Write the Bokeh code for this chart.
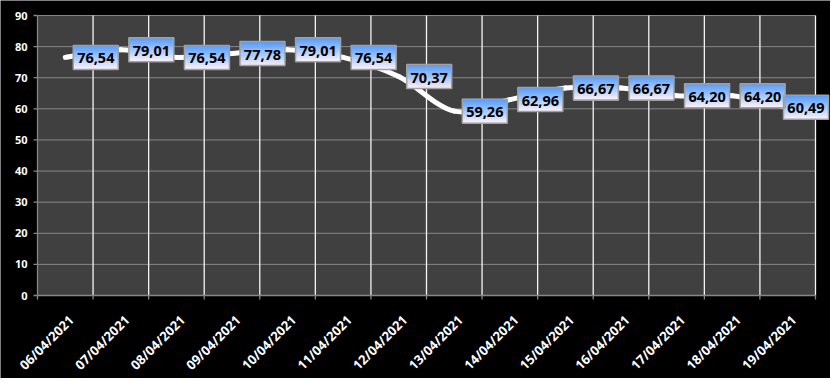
import math
from bokeh.plotting import figure
from bokeh.models import Range1d
from bokeh.core.properties import value
from bokeh.embed import file_html
from bokeh.resources import INLINE

dates = ["06/04/2021", "07/04/2021", "08/04/2021", "09/04/2021", "10/04/2021",
         "11/04/2021", "12/04/2021", "13/04/2021", "14/04/2021", "15/04/2021",
         "16/04/2021", "17/04/2021", "18/04/2021", "19/04/2021"]
values = [76.54, 79.01, 76.54, 77.78, 79.01, 76.54, 70.37, 59.26, 62.96,
          66.67, 66.67, 64.20, 64.20, 60.49]
y_ticks = [0, 10, 20, 30, 40, 50, 60, 70, 80, 90]

W, H = 830, 378
LEFT, TOP, BOTTOM_PX = 37, 15, 295
PLOT_RIGHT_PX = 815
n = len(dates)
y_max = 90
ppx = (PLOT_RIGHT_PX - LEFT) / n
ppy = (BOTTOM_PX - TOP) / y_max

p = figure(width=W, height=H, output_backend="svg", toolbar_location=None,
           x_range=Range1d(-LEFT / ppx, (W - LEFT) / ppx),
           y_range=Range1d(-(H - BOTTOM_PX) / ppy, y_max + TOP / ppy),
           x_axis_location=None, y_axis_location=None,
           min_border_left=0, min_border_right=0, min_border_top=0, min_border_bottom=0)
p.background_fill_color = "black"
p.border_fill_color = "black"
p.outline_line_color = None
p.xgrid.visible = False
p.ygrid.visible = False

# plot area
p.quad(left=[0], right=[n], bottom=[0], top=[y_max], fill_color="#404040", line_color=None)

# gridlines
hy = [t for t in y_ticks if t > 0]
p.segment(x0=[0] * len(hy), x1=[n] * len(hy), y0=hy, y1=hy, line_color="#868686", line_width=1)
vx = list(range(1, n + 1))
p.segment(x0=vx, x1=vx, y0=[0] * len(vx), y1=[y_max] * len(vx), line_color="#f4f4f4", line_width=1.3)

# axis lines and tick marks
p.segment(x0=[0, 0], x1=[n, 0], y0=[0, 0], y1=[0, y_max], line_color="#868686", line_width=1.3)
bx = list(range(0, n + 1))
p.segment(x0=bx, x1=bx, y0=[0] * len(bx), y1=[-4 / ppy] * len(bx),
          line_color="#868686", line_width=1.3)
p.segment(x0=[0] * len(y_ticks), x1=[-4 / ppx] * len(y_ticks), y0=y_ticks, y1=y_ticks,
          line_color="#868686", line_width=1.3)

# value axis labels
p.text(x=[-10 / ppx] * len(y_ticks), y=y_ticks, text=[str(t) for t in y_ticks],
       text_align="right", text_baseline="middle",
       text_font=value("Noto Sans"), text_font_style="bold", text_font_size="11px",
       text_color="white")

# category labels
xs = [i + 0.5 for i in range(n)]
p.text(x=[x + 6 / ppx for x in xs], y=[-22 / ppy] * n, text=dates,
       angle=math.pi / 4, text_align="right", text_baseline="middle",
       text_font=value("Noto Sans"), text_font_style="bold", text_font_size="13px",
       text_color="white")

# smoothed line (Catmull-Rom -> bezier)
ys = values
x0s, y0s, x1s, y1s, cx0, cy0, cx1, cy1 = [], [], [], [], [], [], [], []
for i in range(n - 1):
    pxm, pym = (xs[i - 1], ys[i - 1]) if i > 0 else (xs[i], ys[i])
    pxp, pyp = (xs[i + 2], ys[i + 2]) if i + 2 < n else (xs[i + 1], ys[i + 1])
    x0s.append(xs[i]); y0s.append(ys[i]); x1s.append(xs[i + 1]); y1s.append(ys[i + 1])
    cx0.append(xs[i] + (xs[i + 1] - pxm) / 6); cy0.append(ys[i] + (ys[i + 1] - pym) / 6)
    cx1.append(xs[i + 1] - (pxp - xs[i]) / 6); cy1.append(ys[i + 1] - (pyp - ys[i]) / 6)
p.bezier(x0=x0s, y0=y0s, x1=x1s, y1=y1s, cx0=cx0, cy0=cy0, cx1=cx1, cy1=cy1,
         line_color="white", line_width=5, line_cap="round")

# data labels with gradient boxes
BOX_W, BOX_H, GAP = 45, 24, 8
max_right_px = 828
lab_x = []
for i in range(n):
    cx = xs[i] + (GAP + BOX_W / 2) / ppx
    cx = min(cx, (max_right_px - LEFT - BOX_W / 2) / ppx)
    lab_x.append(cx)

top_c = (90, 156, 250)
mid_c = (160, 198, 252)
bot_c = (248, 238, 248)
def grad(t):
    if t < 0.5:
        a, b, u = top_c, mid_c, t / 0.5
    else:
        a, b, u = mid_c, bot_c, (t - 0.5) / 0.5
    return "#%02x%02x%02x" % tuple(int(round(a[k] + (b[k] - a[k]) * u)) for k in range(3))

NS = 12
sh = BOX_H / NS
sx, sy, sc = [], [], []
for i in range(n):
    for k in range(NS):
        off_px = BOX_H / 2 - (k + 0.5) * sh
        sx.append(lab_x[i]); sy.append(values[i] + off_px / ppy); sc.append(grad(k / (NS - 1)))
p.rect(x=sx, y=sy, width=BOX_W, height=sh + 0.6, width_units="screen", height_units="screen",
       fill_color=sc, line_color=None)
p.rect(x=lab_x, y=values, width=BOX_W, height=BOX_H, width_units="screen", height_units="screen",
       fill_color=None, line_color="#a0a0a0", line_width=1.5)
labels = [("%.2f" % v).replace(".", ",") for v in values]
p.text(x=lab_x, y=values, text=labels, text_align="center", text_baseline="middle",
       text_font=value("Noto Sans"), text_font_style="bold", text_font_size="14.5px",
       text_color="black", y_offset=1)

open("out.html", "w").write(file_html(p, INLINE))
